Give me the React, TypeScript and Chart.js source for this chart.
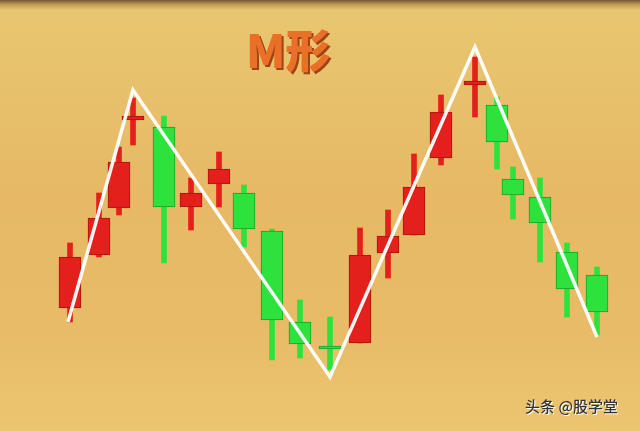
import React, { useEffect, useRef } from "react";
import { Chart, registerables } from "chart.js";

Chart.register(...registerables);

// Candle positions along the time axis and OHLC values (arbitrary price units)
const xPos = [70, 99, 119, 133, 164, 191, 219, 244, 272, 300, 330, 360, 388, 414, 441, 475, 497, 513, 540, 567, 597];
const openV = [123, 176, 223, 311, 304, 224, 247, 238, 200, 109, 85, 88, 178, 196, 273, 346, 326, 252, 234, 179, 156];
const closeV = [174, 213, 269, 315, 224, 238, 262, 202, 111, 87, 82, 176, 195, 244, 319, 350, 289, 236, 208, 142, 119];
const highV = [188, 238, 284, 333, 315, 253, 279, 246, 202, 131, 114, 203, 221, 277, 336, 374, 334, 264, 253, 188, 164];
const lowV = [109, 174, 216, 286, 168, 201, 224, 184, 71, 73, 61, 88, 153, 196, 266, 314, 262, 212, 169, 114, 96];

// M-shape trend line
const mX = [68, 133, 330, 475, 597];
const mY = [109, 341, 54, 384, 94];

const RED = "#E4201C";
const RED_DARK = "#A81410";
const GREEN = "#2EE23E";
const GREEN_DARK = "#1C9E2A";

export default function App() {
  const ref = useRef<HTMLCanvasElement>(null);

  useEffect(() => {
    document.body.style.margin = "0";
    const up = xPos.map((_, i) => closeV[i] >= openV[i]);
    const fill = up.map((u) => (u ? RED : GREEN));
    const border = up.map((u) => (u ? RED_DARK : GREEN_DARK));
    const chart = new Chart(ref.current!, {
      type: "bar",
      data: {
        datasets: [
          {
            type: "line",
            label: "M",
            data: mX.map((x, i) => ({ x, y: mY[i] })),
            borderColor: "rgba(255,255,255,0.95)",
            borderWidth: 3.5,
            pointRadius: 0,
            tension: 0,
            order: 0,
          } as any,
          {
            label: "body",
            data: xPos.map((x, i) => ({ x, y: [openV[i], closeV[i]] })),
            backgroundColor: fill,
            borderColor: border,
            borderWidth: 1,
            borderSkipped: false,
            barThickness: 22,
            grouped: false,
            order: 1,
          } as any,
          {
            label: "wick",
            data: xPos.map((x, i) => ({ x, y: [lowV[i], highV[i]] })),
            backgroundColor: fill,
            borderWidth: 0,
            barThickness: 5,
            grouped: false,
            order: 2,
          } as any,
        ],
      },
      options: {
        animation: false,
        responsive: true,
        maintainAspectRatio: false,
        layout: { padding: 0 },
        plugins: { legend: { display: false }, tooltip: { enabled: false } },
        scales: {
          x: { type: "linear", min: 0, max: 640, display: false, offset: false },
          y: { type: "linear", min: 0, max: 431, display: false },
        },
      },
    });
    return () => chart.destroy();
  }, []);

  return (
    <div
      style={{
        position: "fixed",
        left: 0,
        top: 0,
        width: 640,
        height: 431,
        overflow: "hidden",
        background:
          "linear-gradient(to bottom, #6e5634 0px, #b89558 4px, #E8C670 10px, #E7B964 45%, #E8BB66 75%, #ECC570 100%)",
      }}
    >
      <canvas ref={ref} style={{ position: "absolute", left: 0, top: 0 }} />
      <div
        style={{
          position: "absolute",
          left: 246,
          top: 22,
          fontFamily: "'Noto Sans CJK SC', 'DejaVu Sans', sans-serif",
          fontWeight: 900,
          fontSize: 45,
          color: "#EA7028",
          textShadow: "2px 2px 0 #9E4416",
          lineHeight: 1.2,
        }}
      >
        M形
      </div>
      <div
        style={{
          position: "absolute",
          left: 525,
          top: 397,
          fontFamily: "'Noto Sans CJK SC', sans-serif",
          fontSize: 15,
          fontWeight: 500,
          color: "#333333",
          textShadow: "1px 1px 0 #ffffff",
          lineHeight: 1.2,
        }}
      >
        头条 @股学堂
      </div>
    </div>
  );
}
